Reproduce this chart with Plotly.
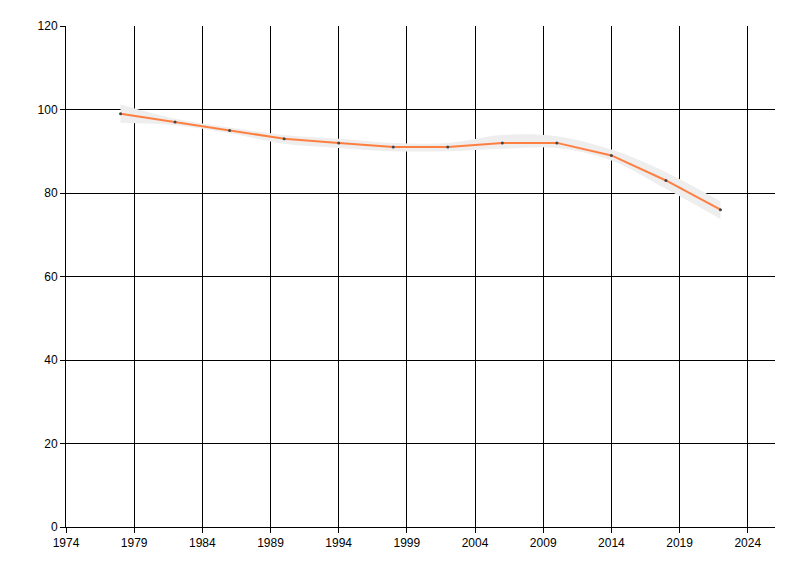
import plotly.graph_objects as go

years = [1978, 1982, 1986, 1990, 1994, 1998, 2002, 2006, 2010, 2014, 2018, 2022]
values = [99, 97, 95, 93, 92, 91, 91, 92, 92, 89, 83, 76]
band_upper = [101.2, 97.8, 95.7, 93.9, 93.0, 92.0, 92.0, 93.9, 93.6, 90.4, 85.0, 78.0]
band_lower = [96.8, 96.2, 94.3, 91.8, 90.8, 90.0, 90.0, 90.6, 90.8, 87.8, 81.0, 73.8]

x_ticks = [1974, 1979, 1984, 1989, 1994, 1999, 2004, 2009, 2014, 2019, 2024]
y_ticks = [0, 20, 40, 60, 80, 100, 120]

fig = go.Figure()
fig.add_trace(go.Scatter(x=years, y=band_upper, mode="lines", line=dict(width=0, shape="spline"),
                         hoverinfo="skip", showlegend=False))
fig.add_trace(go.Scatter(x=years, y=band_lower, mode="lines", line=dict(width=0, shape="spline"),
                         fill="tonexty", fillcolor="#eeeeee",
                         hoverinfo="skip", showlegend=False))
fig.add_trace(go.Scatter(x=years, y=values, mode="lines+markers",
                         line=dict(color="#ff7f41", width=2),
                         marker=dict(size=3, color="#444444"),
                         showlegend=False))

axis_common = dict(showgrid=True, gridcolor="black", gridwidth=1, showline=True,
                   linecolor="black", linewidth=1, ticks="outside", ticklen=5,
                   tickcolor="black", zeroline=False,
                   tickfont=dict(family="Liberation Sans, Arial, sans-serif", size=12, color="black"))

fig.update_layout(
    width=800, height=576,
    margin=dict(l=58, r=33, t=18, b=57),
    paper_bgcolor="white", plot_bgcolor="white",
    xaxis=dict(range=[1974, 2026], tickvals=x_ticks, ticktext=[str(t) for t in x_ticks], **axis_common),
    yaxis=dict(range=[0, 120], tickvals=y_ticks, ticktext=[str(t) for t in y_ticks], **axis_common),
)
fig.write_html("out.html")
